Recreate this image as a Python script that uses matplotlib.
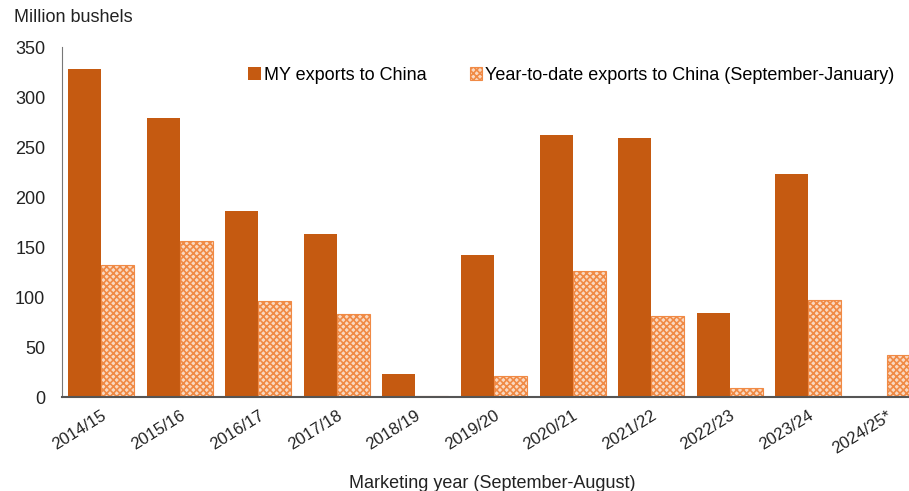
import matplotlib
matplotlib.use('Agg')
import matplotlib.pyplot as plt
import numpy as np

plt.rcParams['font.family'] = ['Liberation Sans', 'DejaVu Sans']
plt.rcParams['hatch.linewidth'] = 1.2

# marketing years and exports (million bushels)
years = ['2014/15', '2015/16', '2016/17', '2017/18', '2018/19', '2019/20',
         '2020/21', '2021/22', '2022/23', '2023/24', '2024/25*']
my_exports = [328, 279, 186, 163, 23, 142, 262, 259, 84, 223, np.nan]
ytd_exports = [132, 156, 96, 83, 1, 21, 126, 81, 9, 97, 42]

fig = plt.figure(figsize=(9.09, 4.91), dpi=100)
ax = fig.add_axes([62 / 909, 94 / 491, 864 / 909, 350 / 491])

x = np.arange(len(years))
w = 0.42
ax.bar(x - w / 2, my_exports, w, color='#C55A11', label='MY exports to China')
ax.bar(x + w / 2, ytd_exports, w, facecolor='#FAD9C2', edgecolor='#F08A45',
       hatch='xxxxx', linewidth=0.8, label='Year-to-date exports to China (September-January)')

ax.set_xlim(-0.5, len(years) - 0.5)
ax.set_ylim(0, 350)
ax.set_yticks(range(0, 351, 50))
ax.set_xticks(x)
ax.set_xticklabels(years, rotation=32, ha='right', rotation_mode='anchor')
ax.tick_params(axis='both', length=0, labelsize=13, colors='#222222')
ax.tick_params(axis='x', pad=8, labelsize=12)
ax.tick_params(axis='y', pad=12)

for s in ['top', 'right']:
    ax.spines[s].set_visible(False)
ax.spines['left'].set_color('#777777')
ax.spines['bottom'].set_color('#555555')
ax.spines['bottom'].set_linewidth(1.5)

ax.set_xlabel('Marketing year (September-August)', fontsize=13, color='#222222', va='center')
ax.xaxis.set_label_coords((492 - 62) / 864, -86 / 350)
fig.text(14 / 909, 1 - 18 / 491, 'Million bushels', fontsize=13, color='#222222',
         va='center', ha='left')

ax.legend(loc='center left', bbox_to_anchor=(179 / 864, 0.92), ncol=2, frameon=False,
          fontsize=13, handlelength=0.7, handleheight=0.7, handletextpad=0.15,
          columnspacing=2.4, borderaxespad=0)

fig.savefig('out.png', dpi=100)
